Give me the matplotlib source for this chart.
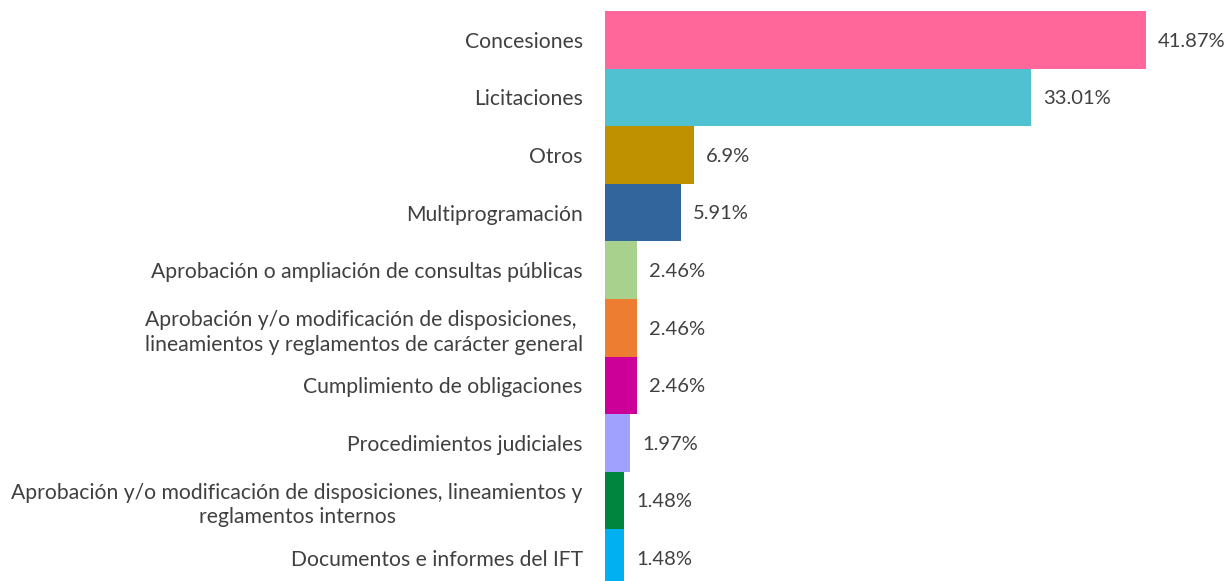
import matplotlib.pyplot as plt

categorias = [
    "Concesiones",
    "Licitaciones",
    "Otros",
    "Multiprogramación",
    "Aprobación o ampliación de consultas públicas",
    "Aprobación y/o modificación de disposiciones, \nlineamientos y reglamentos de carácter general",
    "Cumplimiento de obligaciones",
    "Procedimientos judiciales",
    "Aprobación y/o modificación de disposiciones, lineamientos y\nreglamentos internos",
    "Documentos e informes del IFT",
]
porcentajes = [41.87, 33.01, 6.9, 5.91, 2.46, 2.46, 2.46, 1.97, 1.48, 1.48]
etiquetas = ["41.87%", "33.01%", "6.9%", "5.91%", "2.46%", "2.46%", "2.46%",
             "1.97%", "1.48%", "1.48%"]
colores = ["#FF6699", "#4FC1D0", "#BF9000", "#31659B", "#A9D18E", "#ED7D31",
           "#CC0099", "#A0A0FF", "#00853E", "#00B0F0"]

plt.rcParams['font.family'] = ['Lato', 'DejaVu Sans']
texto = "#404040"

fig = plt.figure(figsize=(12.25, 5.81), dpi=100)
ax = fig.add_axes([605 / 1225, -6 / 581, 607 / 1225, 576 / 581])

y = list(range(len(categorias)))
ax.barh(y, porcentajes, height=1.0, color=colores)
for yi, v, et in zip(y, porcentajes, etiquetas):
    ax.annotate(et, (v, yi), xytext=(8.5, -1), textcoords="offset points",
                va="center", ha="left", fontsize=14.5, color=texto)

ax.set_xlim(0, 47)
ax.set_ylim(len(categorias) - 0.5, -0.5)
ax.set_yticks(y)
ax.set_yticklabels(categorias, fontsize=15.2, color=texto,
                   multialignment="center", linespacing=1.3)
ax.tick_params(axis="y", length=0, pad=16)
ax.set_xticks([])
for s in ax.spines.values():
    s.set_visible(False)

fig.savefig("out.png", dpi=100)
plt.close(fig)
